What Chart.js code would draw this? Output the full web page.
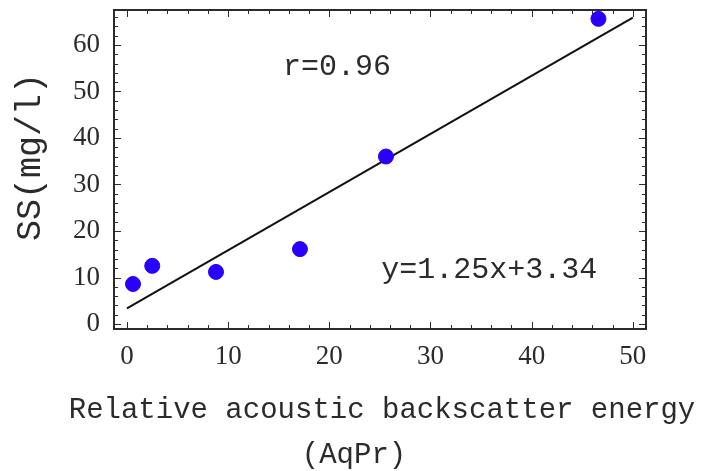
<!DOCTYPE html>
<html>
<head>
<meta charset="utf-8">
<script src="https://cdn.jsdelivr.net/npm/chart.js@4.4.1/dist/chart.umd.min.js"></script>
<style>
  html, body { margin: 0; padding: 0; background: #fff; }
  canvas { display: block; }
</style>
</head>
<body>
<canvas id="myChart" width="703" height="471"></canvas>
<script>
// backscatter energy (AqPr) vs suspended solids (mg/l)
const energy = [0.6, 2.5, 8.8, 17.1, 25.6, 46.6];
const solids = [8.6, 12.5, 11.2, 16.1, 36.0, 65.6];

// regression line y = 1.25x + 3.34, end points
const fitX = [0, 50];
const fitY = [3.34, 65.84];

const xTickVals = [0, 10, 20, 30, 40, 50];
const yTickVals = [0, 10, 20, 30, 40, 50, 60];

const monoFont = "'Liberation Mono', 'Courier New', monospace";
const serifFont = "'Liberation Serif', 'Times New Roman', serif";
const inkColor = '#2b2b2b';

// text notes placed in data coordinates
const notes = [
  { text: 'r=0.96', x: 20.75, y: 55.3 },
  { text: 'y=1.25x+3.34', x: 35.8, y: 11.6 }
];

const framePlugin = {
  id: 'frame',
  afterDraw(chart) {
    const ctx = chart.ctx;
    const { left, right, top, bottom } = chart.chartArea;
    const xs = chart.scales.x;
    const ys = chart.scales.y;
    ctx.save();
    ctx.strokeStyle = inkColor;
    ctx.lineWidth = 1;
    // minor and major ticks on all four sides, pointing inward
    for (let v = 0; v <= 50; v += 2) {
      const px = Math.round(xs.getPixelForValue(v)) + 0.5;
      const len = v % 10 === 0 ? 7 : 4;
      ctx.beginPath();
      ctx.moveTo(px, bottom); ctx.lineTo(px, bottom - len);
      ctx.moveTo(px, top); ctx.lineTo(px, top + len);
      ctx.stroke();
    }
    for (let v = 0; v <= 66; v += 2) {
      const py = Math.round(ys.getPixelForValue(v)) + 0.5;
      const len = v % 10 === 0 ? 7 : 4;
      ctx.beginPath();
      ctx.moveTo(left, py); ctx.lineTo(left + len, py);
      ctx.moveTo(right, py); ctx.lineTo(right - len, py);
      ctx.stroke();
    }
    ctx.lineWidth = 2;
    ctx.strokeRect(left, top, right - left, bottom - top);

    ctx.fillStyle = inkColor;
    ctx.font = '30px ' + monoFont;
    ctx.textAlign = 'center';
    ctx.textBaseline = 'middle';
    notes.forEach(n => {
      ctx.fillText(n.text, xs.getPixelForValue(n.x), ys.getPixelForValue(n.y));
    });

    // x axis title, two lines
    ctx.font = '29px ' + monoFont;
    ctx.fillText('Relative acoustic backscatter energy', 382, 410);
    ctx.fillText('(AqPr)', 354, 455);

    // y axis title
    ctx.font = '35px ' + monoFont;
    ctx.translate(31, 157);
    ctx.rotate(-Math.PI / 2);
    ctx.fillText('SS(mg/l)', 0, 0);
    ctx.restore();
  }
};

new Chart(document.getElementById('myChart'), {
  type: 'scatter',
  data: {
    datasets: [
      {
        label: 'SS',
        data: energy.map((x, i) => ({ x: x, y: solids[i] })),
        backgroundColor: 'rgb(40, 0, 255)',
        borderColor: 'rgb(40, 0, 255)',
        pointRadius: 7.5,
        order: 0
      },
      {
        label: 'fit',
        type: 'line',
        data: fitX.map((x, i) => ({ x: x, y: fitY[i] })),
        borderColor: '#111',
        borderWidth: 2,
        pointRadius: 0,
        fill: false,
        order: 1
      }
    ]
  },
  options: {
    responsive: false,
    animation: false,
    events: [],
    layout: { padding: { top: 10, right: 57, left: 0, bottom: 0 } },
    plugins: {
      legend: { display: false },
      tooltip: { enabled: false }
    },
    scales: {
      x: {
        type: 'linear',
        min: -1.28,
        max: 51.3,
        grid: { display: false, drawTicks: false },
        border: { display: false },
        afterBuildTicks: s => { s.ticks = xTickVals.map(v => ({ value: v })); },
        afterFit: s => { s.height = 142; s.paddingLeft = 0; s.paddingRight = 0; },
        ticks: {
          color: inkColor,
          padding: 12,
          maxRotation: 0,
          font: { family: serifFont, size: 27 }
        }
      },
      y: {
        type: 'linear',
        min: -1.07,
        max: 67.5,
        grid: { display: false, drawTicks: false },
        border: { display: false },
        afterBuildTicks: s => { s.ticks = yTickVals.map(v => ({ value: v })); },
        afterFit: s => { s.width = 114; s.paddingTop = 0; s.paddingBottom = 0; },
        ticks: {
          color: inkColor,
          padding: 14,
          font: { family: serifFont, size: 27 }
        }
      }
    }
  },
  plugins: [framePlugin]
});
</script>
</body>
</html>
